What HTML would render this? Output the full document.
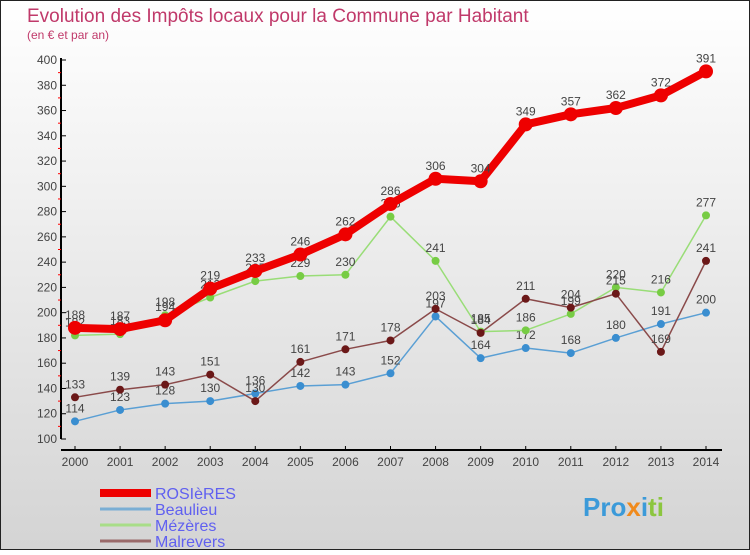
<!DOCTYPE html>
<html><head><meta charset="utf-8"><style>
body{margin:0}
#c{width:750px;height:550px;position:relative;font-family:"Liberation Sans",sans-serif}
</style></head><body>
<div id="c">
<svg id="s" width="750" height="550" xmlns="http://www.w3.org/2000/svg">
<defs><linearGradient id="bg" x1="0" y1="0" x2="0" y2="1"><stop offset="0" stop-color="#ffffff"/><stop offset="1" stop-color="#d4d4d4"/></linearGradient></defs>
<rect x="0.5" y="0.5" width="749" height="549" fill="url(#bg)" stroke="#222"/>
<text x="27" y="22" font-size="19" fill="#c0396a">Evolution des Impôts locaux pour la Commune par Habitant</text>
<text x="27" y="39" font-size="12" fill="#c0396a">(en € et par an)</text>
<g id="axes"></g><g id="series"></g><g id="legend"></g>
<text x="583" y="516" font-size="26" font-weight="bold" fill="#3b9ad9">Pro<tspan fill="#f08a1c">x</tspan><tspan fill="#3b9ad9">i</tspan><tspan fill="#8cc63f">ti</tspan></text>
</svg></div>
<script>
const years=["2000","2001","2002","2003","2004","2005","2006","2007","2008","2009","2010","2011","2012","2013","2014"];
const yTicks=[100,120,140,160,180,200,220,240,260,280,300,320,340,360,380,400];
const rosieres=[188,187,194,219,233,246,262,286,306,304,349,357,362,372,391];
const beaulieu=[114,123,128,130,136,142,143,152,197,164,172,168,180,191,200];
const mezeres=[182,183,198,212,225,229,230,276,241,185,186,199,220,216,277];
const malrevers=[133,139,143,151,130,161,171,178,203,184,211,204,215,169,241];
const NS="http://www.w3.org/2000/svg";
const X=i=>75+i*(706-75)/14;
const Y=v=>439-(v-100)*(439-60)/300;
function mk(t,a,p){const e=document.createElementNS(NS,t);for(const k in a)e.setAttribute(k,a[k]);p.appendChild(e);return e;}
const ax=document.getElementById('axes');
let yl=mk('line',{x1:61,y1:58,x2:61,y2:439,stroke:'#000','stroke-width':2},ax);


let xl=mk('line',{x1:61,y1:450,x2:722,y2:450,stroke:'#000','stroke-width':2},ax);


yTicks.forEach((v,i)=>{
 mk('line',{x1:61,y1:Y(v),x2:66,y2:Y(v),stroke:'#000'},ax);
 if(i>0)mk('line',{x1:58,y1:Y(v-10),x2:61,y2:Y(v-10),stroke:'#f00'},ax);
 const t=mk('text',{x:57,y:Y(v)+4,'font-size':12,fill:'#444','text-anchor':'end'},ax);t.textContent=v;
 
 
});
years.forEach((y,i)=>{
 mk('line',{x1:X(i),y1:446,x2:X(i),y2:450,stroke:'#000'},ax);
 const t=mk('text',{x:X(i),y:466,'font-size':12,fill:'#444','text-anchor':'middle'},ax);t.textContent=y;
 
 
});
const ser=document.getElementById('series');
const defs=[
 {d:beaulieu,c:'#5a9fd4',dot:'#3a8ed0',w:1.5,r:4,n:'beaulieu'},
 {d:mezeres,c:'#99dd77',dot:'#77cc44',w:1.5,r:4,n:'mezeres'},
 {d:malrevers,c:'#8a4a4a',dot:'#6b1818',w:1.5,r:4,n:'malrevers'},
 {d:rosieres,c:'#ee0000',dot:'#ee0000',w:8,r:7,n:'rosieres'}];
defs.forEach(s=>{
 const g=mk('g',{},ser);
 
 
 const p=mk('polyline',{points:s.d.map((v,i)=>X(i)+','+Y(v)).join(' '),fill:'none',stroke:s.c,'stroke-width':s.w,'stroke-linejoin':'round'},g);
 
 
 s.d.forEach((v,i)=>{
  const c=mk('circle',{cx:X(i),cy:Y(v),r:s.r,fill:s.dot},g);
  
  
  const t=mk('text',{x:X(i),y:Y(v)-9,'font-size':12,fill:'#444','text-anchor':'middle'},g);t.textContent=v;
  
  
 });
});
const lg=document.getElementById('legend');
[['ROSIèRES','#ee0000',8],['Beaulieu','#7aaed4',3],['Mézères','#a8dd88',3],['Malrevers','#9a6a6a',3]].forEach((e,i)=>{
 const y=493+i*16;
 const l=mk('line',{x1:100,y1:y,x2:151,y2:y,stroke:e[1],'stroke-width':e[2]},lg);
 
 
 const t=mk('text',{x:155,y:y+6,'font-size':16,fill:'#6060f0'},lg);t.textContent=e[0];
 
 
});
</script>
</body></html>
